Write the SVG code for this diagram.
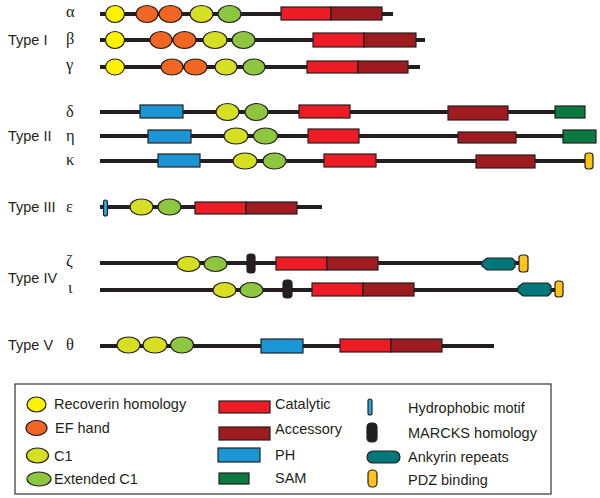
<svg xmlns="http://www.w3.org/2000/svg" width="600" height="498" viewBox="0 0 600 498">
<defs>
<style>
.bb{stroke:#231f20;stroke-width:4;fill:none}
.s{stroke:#231f20;stroke-width:1.2}
.rec{fill:#fff200}
.ef{fill:#f26522}
.c1{fill:#d7df23}
.ec1{fill:#8dc63f}
.cat{fill:#ed1c24}
.acc{fill:#9e1b20}
.ph{fill:#1b95d3}
.sam{fill:#0a7a3f}
.ank{fill:#00777a}
.pdz{fill:#fcc419}
.mar{fill:#231f20}
.hm{fill:#27aae1}
.t{font-family:"Liberation Sans",Arial,sans-serif;font-size:14.5px;fill:#231f20}
.g{font-family:"Liberation Serif","Times New Roman",serif;font-size:16.5px;fill:#231f20}
</style>
</defs>
<g id="labels">
<text class="t" x="8" y="45">Type I</text>
<text class="t" x="8" y="141">Type II</text>
<text class="t" x="8" y="212">Type III</text>
<text class="t" x="8" y="283">Type IV</text>
<text class="t" x="8" y="350">Type V</text>
</g>
<g id="connectors">
<line class="bb" x1="100" y1="14" x2="393" y2="14"/>
<line class="bb" x1="100" y1="40" x2="425" y2="40"/>
<line class="bb" x1="100" y1="67" x2="420" y2="67"/>
<line class="bb" x1="100" y1="112" x2="556" y2="112"/>
<line class="bb" x1="100" y1="136" x2="564" y2="136"/>
<line class="bb" x1="100" y1="161" x2="586" y2="161"/>
<line class="bb" x1="100" y1="207" x2="322" y2="207"/>
<line class="bb" x1="100" y1="263" x2="520" y2="263"/>
<line class="bb" x1="100" y1="290" x2="556" y2="290"/>
<line class="bb" x1="100" y1="346" x2="494" y2="346"/>
</g>
<g id="pkc-alpha">
<text class="g" x="66" y="17">α</text>
<ellipse class="s rec" cx="115" cy="14" rx="9.5" ry="8.5"/>
<ellipse class="s ef" cx="147" cy="14" rx="11" ry="8.5"/>
<ellipse class="s ef" cx="170.5" cy="14" rx="11.5" ry="8.5"/>
<ellipse class="s c1" cx="201.5" cy="14" rx="11.5" ry="8.5"/>
<ellipse class="s ec1" cx="229.5" cy="14" rx="11.5" ry="8.5"/>
<rect class="s cat" x="281" y="7" width="50" height="13"/>
<rect class="s acc" x="331" y="7" width="51" height="13"/>
</g>
<g id="pkc-beta">
<text class="g" x="66" y="44">β</text>
<ellipse class="s rec" cx="115" cy="40" rx="9.5" ry="8.5"/>
<ellipse class="s ef" cx="161" cy="40" rx="11" ry="8.5"/>
<ellipse class="s ef" cx="184.5" cy="40" rx="11.5" ry="8.5"/>
<ellipse class="s c1" cx="215" cy="40" rx="12" ry="8.5"/>
<ellipse class="s ec1" cx="243.5" cy="40" rx="11.5" ry="8.5"/>
<rect class="s cat" x="313" y="33" width="51" height="14"/>
<rect class="s acc" x="364" y="33" width="52" height="14"/>
</g>
<g id="pkc-gamma">
<text class="g" x="66" y="70">γ</text>
<ellipse class="s rec" cx="115" cy="67" rx="9.5" ry="8"/>
<ellipse class="s ef" cx="172" cy="67" rx="11" ry="8"/>
<ellipse class="s ef" cx="195.5" cy="67" rx="11.5" ry="8"/>
<ellipse class="s c1" cx="226" cy="67" rx="11" ry="8"/>
<ellipse class="s ec1" cx="254" cy="67" rx="11" ry="8"/>
<rect class="s cat" x="307" y="61" width="51" height="12"/>
<rect class="s acc" x="358" y="61" width="50" height="12"/>
</g>
<g id="pkc-delta">
<text class="g" x="66" y="117">δ</text>
<rect class="s ph" x="140" y="105" width="43" height="13"/>
<ellipse class="s c1" cx="227.5" cy="112" rx="11.5" ry="8.5"/>
<ellipse class="s ec1" cx="256.5" cy="112" rx="11.5" ry="8.5"/>
<rect class="s cat" x="299" y="105" width="51" height="13"/>
<rect class="s acc" x="448" y="106" width="60" height="14"/>
<rect class="s sam" x="555" y="106" width="30" height="12"/>
</g>
<g id="pkc-eta">
<text class="g" x="66" y="141">η</text>
<rect class="s ph" x="148" y="130" width="43" height="13"/>
<ellipse class="s c1" cx="236" cy="136" rx="12" ry="8"/>
<ellipse class="s ec1" cx="265.5" cy="136" rx="12" ry="8"/>
<rect class="s cat" x="308" y="129" width="51" height="14"/>
<rect class="s acc" x="458" y="132" width="58" height="11"/>
<rect class="s sam" x="563" y="130" width="33" height="13"/>
</g>
<g id="pkc-kappa">
<text class="g" x="66" y="165">κ</text>
<rect class="s ph" x="158" y="154" width="42" height="13"/>
<ellipse class="s c1" cx="245" cy="161" rx="12" ry="8"/>
<ellipse class="s ec1" cx="274.5" cy="161" rx="11.5" ry="8"/>
<rect class="s cat" x="324" y="154" width="52" height="13"/>
<rect class="s acc" x="476" y="155" width="59" height="13"/>
<rect class="s pdz" x="585" y="153" width="8" height="16" rx="3"/>
</g>
<g id="pkc-epsilon">
<text class="g" x="66" y="212">ε</text>
<rect class="s hm" x="103.5" y="200" width="4" height="16" rx="2"/>
<ellipse class="s c1" cx="141.5" cy="207" rx="11.5" ry="8"/>
<ellipse class="s ec1" cx="169.5" cy="207" rx="11.5" ry="8"/>
<rect class="s cat" x="195" y="202" width="51" height="12"/>
<rect class="s acc" x="246" y="202" width="51" height="12"/>
</g>
<g id="pkc-zeta">
<text class="g" x="66" y="266">ζ</text>
<ellipse class="s c1" cx="188.5" cy="264" rx="11.5" ry="7.5"/>
<ellipse class="s ec1" cx="215.5" cy="264" rx="11.5" ry="7.5"/>
<rect class="s mar" x="247" y="254" width="8" height="19" rx="3"/>
<rect class="s cat" x="276" y="257" width="51" height="13"/>
<rect class="s acc" x="327" y="257" width="51" height="13"/>
<path class="s ank" d="M487,258 H512 L515,261 V267 L512,270 H487 L482,266 V262 Z"/>
<rect class="s pdz" x="519" y="255" width="9" height="17" rx="3"/>
</g>
<g id="pkc-iota">
<text class="g" x="68" y="293">ι</text>
<ellipse class="s c1" cx="224.5" cy="290" rx="11.5" ry="7.5"/>
<ellipse class="s ec1" cx="251.5" cy="290" rx="11.5" ry="7.5"/>
<rect class="s mar" x="283" y="280" width="9" height="18" rx="3.5"/>
<rect class="s cat" x="312" y="283" width="51" height="13"/>
<rect class="s acc" x="363" y="283" width="51" height="13"/>
<path class="s ank" d="M523,283 H548 L551,286 V293 L548,296 H523 L518,292 V287 Z"/>
<rect class="s pdz" x="555" y="281" width="8" height="16" rx="3"/>
</g>
<g id="pkc-theta">
<text class="g" x="66" y="350">θ</text>
<ellipse class="s c1" cx="128.5" cy="345" rx="11.5" ry="8"/>
<ellipse class="s c1" cx="155" cy="345" rx="12" ry="8"/>
<ellipse class="s ec1" cx="182" cy="345" rx="11.5" ry="8"/>
<rect class="s ph" x="261" y="339" width="42" height="14"/>
<rect class="s cat" x="340" y="339" width="51" height="13"/>
<rect class="s acc" x="391" y="339" width="51" height="13"/>
</g>
<g id="legend">
<rect x="15" y="384" width="536" height="110" fill="#fff" stroke="#333" stroke-width="1.2"/>
<ellipse class="s rec" cx="36.5" cy="404.5" rx="9.5" ry="7.5"/>
<text class="t" x="54" y="409">Recoverin homology</text>
<ellipse class="s ef" cx="36.5" cy="428" rx="10.5" ry="7.5"/>
<text class="t" x="55" y="433">EF hand</text>
<ellipse class="s c1" cx="37.5" cy="455.5" rx="11" ry="7.5"/>
<text class="t" x="54" y="461">C1</text>
<ellipse class="s ec1" cx="39" cy="479" rx="12" ry="7"/>
<text class="t" x="54" y="484">Extended C1</text>
<rect class="s cat" x="219" y="401" width="51" height="12"/>
<text class="t" x="275" y="409">Catalytic</text>
<rect class="s acc" x="219" y="427" width="51" height="13"/>
<text class="t" x="275" y="434">Accessory</text>
<rect class="s ph" x="218" y="448" width="42" height="14"/>
<text class="t" x="275" y="460">PH</text>
<rect class="s sam" x="219" y="473" width="30" height="11"/>
<text class="t" x="275" y="483">SAM</text>
<rect class="s hm" x="368" y="399" width="4" height="16" rx="2"/>
<text class="t" x="408" y="413">Hydrophobic motif</text>
<rect class="s mar" x="367" y="423" width="10" height="19" rx="4"/>
<text class="t" x="408" y="438">MARCKS homology</text>
<rect class="s ank" x="367" y="451" width="33" height="12" rx="6"/>
<text class="t" x="408" y="462">Ankyrin repeats</text>
<rect class="s pdz" x="368" y="470" width="9" height="17" rx="4"/>
<text class="t" x="408" y="485">PDZ binding</text>
</g>
</svg>
